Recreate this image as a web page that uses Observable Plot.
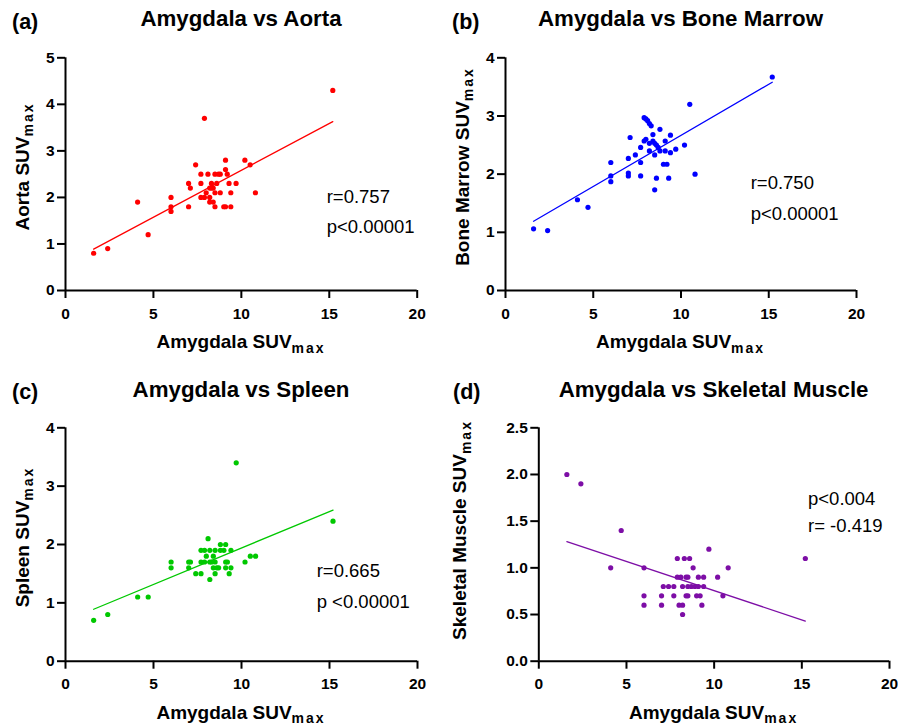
<!DOCTYPE html>
<html>
<head>
<meta charset="utf-8">
<script src="https://cdn.jsdelivr.net/npm/d3@7"></script>
<script src="https://cdn.jsdelivr.net/npm/@observablehq/plot@0.6"></script>
<style>
  html, body { margin: 0; padding: 0; background: #fff; }
  #chart { position: relative; width: 898px; height: 725px; overflow: hidden; font-family: "Liberation Sans", Arial, sans-serif; }
  .panel { position: absolute; }
  .panel svg { overflow: visible; }
  .panel svg text { font-size: 15.5px !important; font-weight: bold !important; font-family: "Liberation Sans", Arial, sans-serif !important; }
  #overlay { position: absolute; left: 0; top: 0; pointer-events: none; }
</style>
</head>
<body>
<div id="chart"></div>
<script>
// ---------- data ----------
const xTicks = [0, 5, 10, 15, 20];

// (a) Amygdala vs Aorta
const aortaX = [1.6,2.4,4.1,4.7,6.0,6.0,6.0,7.0,7.0,7.1,7.4,7.7,7.7,7.7,7.9,7.9,8.0,8.1,8.2,8.2,8.2,8.3,8.3,8.4,8.4,8.5,8.5,8.5,8.6,8.7,8.8,8.8,9.0,9.1,9.1,9.1,9.2,9.3,9.4,9.4,9.7,10.2,10.5,10.8,15.2];
const aortaY = [0.8,0.9,1.9,1.2,2.0,1.8,1.7,1.8,2.3,2.2,2.7,2.5,2.3,2.0,3.7,2.0,2.1,2.5,2.2,2.0,1.9,2.3,2.2,2.2,1.9,2.5,2.1,1.8,2.3,2.5,2.5,2.1,1.8,2.8,2.6,1.8,2.5,2.3,2.1,1.8,2.3,2.8,2.7,2.1,4.3];
const aortaFitX = [1.6, 15.2];
const aortaFitY = [0.89, 3.63];
const aortaTicks = [0, 1, 2, 3, 4, 5];

// (b) Amygdala vs Bone Marrow
const marrowX = [1.6,2.4,4.1,4.7,6.0,6.0,6.0,7.0,7.0,7.0,7.1,7.4,7.7,7.7,7.7,7.9,8.0,8.1,8.2,8.3,7.9,8.0,8.2,8.2,8.4,8.4,8.5,8.6,8.5,8.6,8.5,8.7,8.8,8.8,9.0,9.1,9.1,9.2,9.3,9.4,9.4,9.7,10.2,10.5,10.8,15.2];
const marrowY = [1.06,1.03,1.56,1.43,2.2,1.97,1.87,2.27,2.02,1.97,2.63,2.33,2.46,2.2,1.97,2.97,2.95,2.92,2.87,2.83,2.57,2.6,2.53,2.4,2.68,2.57,2.53,2.5,2.33,1.93,1.73,2.46,2.77,2.4,2.17,2.57,2.4,2.17,1.93,2.67,2.37,2.43,2.5,3.2,2.0,3.67];
const marrowFitX = [1.6, 15.2];
const marrowFitY = [1.19, 3.58];
const marrowTicks = [0, 1, 2, 3, 4];

// (c) Amygdala vs Spleen
const spleenX = [1.6,2.4,4.1,4.7,6.0,6.0,7.0,7.1,7.0,7.4,7.7,7.7,7.7,7.9,7.9,8.0,8.1,8.2,8.2,8.2,8.3,8.4,8.4,8.5,8.5,8.5,8.6,8.7,8.8,8.8,9.0,9.1,9.1,9.2,9.1,9.3,9.4,9.4,9.7,10.2,10.5,10.8,15.2];
const spleenY = [0.7,0.8,1.1,1.1,1.7,1.6,1.7,1.7,1.6,1.5,1.5,1.9,1.7,1.9,1.7,1.8,2.1,1.9,1.7,1.4,1.7,1.8,1.6,1.9,1.7,1.5,1.6,1.6,2.0,1.9,1.9,2.0,1.7,1.7,1.6,1.5,1.9,1.6,3.4,1.7,1.8,1.8,2.4];
const spleenFitX = [1.6, 15.2];
const spleenFitY = [0.89, 2.59];
const spleenTicks = [0, 1, 2, 3, 4];

// (d) Amygdala vs Skeletal Muscle
const muscleX = [1.6,2.4,4.1,4.7,6.0,6.0,6.0,7.0,7.0,7.1,7.4,7.7,7.7,7.9,7.9,8.0,8.1,8.2,8.2,8.2,8.3,8.4,8.4,8.5,8.5,8.6,8.5,8.7,8.8,8.9,9.0,9.1,9.1,9.2,9.3,9.4,9.4,9.7,10.2,10.5,10.8,15.2];
const muscleY = [2.0,1.9,1.0,1.4,1.0,0.7,0.6,0.7,0.6,0.8,0.8,0.8,0.7,1.1,0.9,0.6,0.9,0.8,0.6,0.5,1.1,0.9,0.7,0.9,0.8,1.1,0.7,0.8,1.0,0.8,0.7,0.9,0.8,0.7,0.6,0.9,0.8,1.2,0.9,0.7,1.0,1.1];
const muscleFitX = [1.6, 15.2];
const muscleFitY = [1.28, 0.43];
const muscleTicks = [0, 0.5, 1.0, 1.5, 2.0, 2.5];

const letters = ["(a)", "(b)", "(c)", "(d)"];
const titles = ["Amygdala vs Aorta", "Amygdala vs Bone Marrow", "Amygdala vs Spleen", "Amygdala vs Skeletal Muscle"];
const yNames = ["Aorta SUV", "Bone Marrow SUV", "Spleen SUV", "Skeletal Muscle SUV"];
const xName = "Amygdala SUV";
const subText = "max";
const stats = [["r=0.757", "p<0.00001"], ["r=0.750", "p<0.00001"], ["r=0.665", "p <0.00001"], ["p<0.004", "r= -0.419"]];
const colors = ["#ff0000", "#0000ff", "#00c800", "#7d0ea6"];

// ---------- layout ----------
const FONT = '"Liberation Sans", Arial, sans-serif';
const panels = [
  {x: aortaX, y: aortaY, fx: aortaFitX, fy: aortaFitY, ticks: aortaTicks, fmt: d3.format("d"),
   box: {left: 0, top: 40, w: 449, h: 290}, area: {x0: 65, x1: 416.7, y0: 57.3, y1: 290}},
  {x: marrowX, y: marrowY, fx: marrowFitX, fy: marrowFitY, ticks: marrowTicks, fmt: d3.format("d"),
   box: {left: 449, top: 40, w: 449, h: 290}, area: {x0: 505, x1: 856, y0: 57.3, y1: 290}},
  {x: spleenX, y: spleenY, fx: spleenFitX, fy: spleenFitY, ticks: spleenTicks, fmt: d3.format("d"),
   box: {left: 0, top: 405, w: 449, h: 300}, area: {x0: 65, x1: 417, y0: 427.3, y1: 660.7}},
  {x: muscleX, y: muscleY, fx: muscleFitX, fy: muscleFitY, ticks: muscleTicks, fmt: d3.format(".1f"),
   box: {left: 449, top: 405, w: 449, h: 300}, area: {x0: 538.3, x1: 889, y0: 427.3, y1: 660.7}}
];

const chart = document.getElementById("chart");

panels.forEach((p, i) => {
  const b = p.box, a = p.area;
  const pts = p.x.map((v, k) => ({x: v, y: p.y[k]}));
  const fit = p.fx.map((v, k) => ({x: v, y: p.fy[k]}));
  const svg = Plot.plot({
    width: b.w,
    height: b.h,
    marginLeft: a.x0 - b.left,
    marginRight: b.left + b.w - a.x1,
    marginTop: a.y0 - b.top,
    marginBottom: b.top + b.h - a.y1,
    x: {domain: [0, 20]},
    y: {domain: [p.ticks[0], p.ticks[p.ticks.length - 1]]},
    style: {fontFamily: FONT, fontSize: "15.5px", fontWeight: "bold", color: "#000", background: "transparent", overflow: "visible"},
    marks: [
      Plot.axisX({ticks: xTicks, tickSize: 8, tickPadding: 9, strokeWidth: 2, label: null, fontWeight: "bold", fontSize: 15.5}),
      Plot.axisY({ticks: p.ticks, tickFormat: p.fmt, tickSize: 8, tickPadding: 3, strokeWidth: 2, label: null, fontWeight: "bold", fontSize: 15.5}),
      Plot.ruleY([p.ticks[0]], {stroke: "#000", strokeWidth: 2}),
      Plot.ruleX([0], {stroke: "#000", strokeWidth: 2}),
      Plot.line(fit, {x: "x", y: "y", stroke: colors[i], strokeWidth: 1.3}),
      Plot.dot(pts, {x: "x", y: "y", r: 2.6, fill: colors[i], stroke: "none"})
    ]
  });
  const div = document.createElement("div");
  div.className = "panel";
  div.style.left = b.left + "px";
  div.style.top = b.top + "px";
  div.appendChild(svg);
  chart.appendChild(div);
});

// ---------- text overlay ----------
const ov = d3.create("svg").attr("id", "overlay").attr("width", 898).attr("height", 725)
  .style("font-family", FONT);

const textPos = [
  {letter: [12, 29], title: [241, 26], xl: [241, 348], yl: [28.5, 166.5], st: [326.7, 203.3, 232.7]},
  {letter: [452, 29], title: [680.5, 26], xl: [680.5, 348], yl: [468.5, 166.5], st: [750.7, 189.3, 220]},
  {letter: [12, 399], title: [241, 396.5], xl: [241, 718.5], yl: [28.5, 537], st: [316.7, 576.7, 608.3]},
  {letter: [453, 399], title: [713.6, 396.5], xl: [713.6, 718.5], yl: [466, 530], st: [808, 505, 531.7]}
];

function labelWithSub(g, main) {
  g.append("tspan").text(main);
  g.append("tspan").attr("dy", 4.5).attr("font-size", 14).attr("letter-spacing", 2).text(subText);
}

textPos.forEach((t, i) => {
  ov.append("text").attr("x", t.letter[0]).attr("y", t.letter[1])
    .attr("font-size", 21.5).attr("font-weight", "bold").text(letters[i]);
  ov.append("text").attr("x", t.title[0]).attr("y", t.title[1]).attr("text-anchor", "middle")
    .attr("font-size", 22.3).attr("font-weight", "bold").text(titles[i]);
  const xl = ov.append("text").attr("x", t.xl[0]).attr("y", t.xl[1]).attr("text-anchor", "middle")
    .attr("font-size", 19).attr("font-weight", "bold");
  labelWithSub(xl, xName);
  const yl = ov.append("text").attr("transform", `translate(${t.yl[0]},${t.yl[1]}) rotate(-90)`)
    .attr("text-anchor", "middle").attr("font-size", 19).attr("font-weight", "bold");
  labelWithSub(yl, yNames[i]);
  ov.append("text").attr("x", t.st[0]).attr("y", t.st[1]).attr("font-size", 18.5).text(stats[i][0]);
  ov.append("text").attr("x", t.st[0]).attr("y", t.st[2]).attr("font-size", 18.5).text(stats[i][1]);
});

chart.appendChild(ov.node());
</script>
</body>
</html>
